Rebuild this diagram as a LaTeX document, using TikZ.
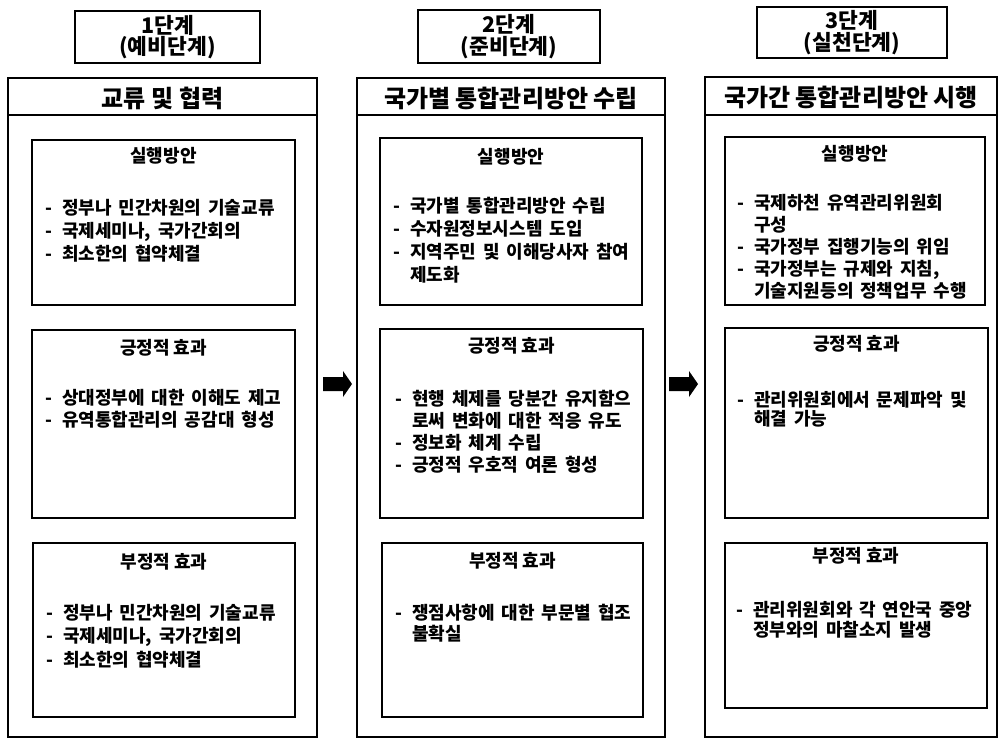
\documentclass[tikz,border=0pt]{standalone}
\usepackage{fontspec}
\setmainfont{Noto Sans CJK KR}
\newcommand\bl[1]{\makebox[17pt][l]{-}#1}
\newcommand\cn[1]{\hspace*{17pt}#1}
\newcommand\blk[2][22pt]{\vtop{\baselineskip=#1\lineskiplimit=-30pt\spaceskip=0.38em plus 0pt\halign{##\hfil\cr#2\crcr}}}
\begin{document}
\begin{tikzpicture}[x=1pt,y=-1pt,
  colbox/.style={draw, line width=2pt},
  inbox/.style={draw, line width=1.3pt},
  stagebox/.style={draw, line width=2.4pt, align=center, inner sep=0pt,
    font=\fontsize{21.5}{21.5}\selectfont\bfseries},
  hdr/.style={font=\fontsize{24}{26}\selectfont\bfseries, inner sep=0pt},
  ttl/.style={font=\fontsize{18}{22}\selectfont\bfseries, inner sep=0pt},
  body/.style={font=\fontsize{18}{22}\selectfont\bfseries, anchor=base west, inner sep=0pt}
]
\useasboundingbox (0,0) rectangle (1000,740);

% stage labels
\node[stagebox, minimum width=185pt, minimum height=52pt] (s1) at (167.5,37) {1단계\\(예비단계)};
\node[stagebox, minimum width=182pt, minimum height=53pt] (s2) at (509,36.5) {2단계\\(준비단계)};
\node[stagebox, minimum width=190pt, minimum height=51pt] (s3) at (852,32.5) {3단계\\(실천단계)};

% columns
\draw[colbox] (8,78) rectangle (317,737);
\draw[colbox] (8,115) -- (317,115);
\draw[colbox] (357,78) rectangle (665,737);
\draw[colbox] (357,115) -- (665,115);
\draw[colbox] (705,77) rectangle (997,737);
\draw[colbox] (705,115) -- (997,115);

\node[hdr] (h1) at (162.5,98) {교류 및 협력};
\node[hdr] (h2) at (511,98) {국가별 통합관리방안 수립};
\node[hdr] (h3) at (851,97) {국가간 통합관리방안 시행};

% inner boxes
\draw[inbox] (32,140) rectangle (295,305);
\draw[inbox] (32,330) rectangle (295,518);
\draw[inbox] (33,543) rectangle (295,717);
\draw[inbox] (380,138) rectangle (642,305);
\draw[inbox] (380,329) rectangle (643,518);
\draw[inbox] (382,543) rectangle (643,717);
\draw[inbox] (725,137) rectangle (985,305);
\draw[inbox] (725,328) rectangle (988,518);
\draw[inbox] (725,543) rectangle (987,708);

% titles
\node[ttl] (t1a) at (163.5,156) {실행방안};
\node[ttl] (t1b) at (163.5,348) {긍정적 효과};
\node[ttl] (t1c) at (164,562) {부정적 효과};
\node[ttl] (t2a) at (511,157) {실행방안};
\node[ttl] (t2b) at (511.5,346) {긍정적 효과};
\node[ttl] (t2c) at (512.5,561) {부정적 효과};
\node[ttl] (t3a) at (855,154) {실행방안};
\node[ttl] (t3b) at (856.5,344) {긍정적 효과};
\node[ttl] (t3c) at (856,556) {부정적 효과};

% bodies
\node[body] (b1a) at (45,214) {\blk[23pt]{\bl{정부나 민간차원의 기술교류}\cr\bl{국제세미나, 국가간회의}\cr\bl{최소한의 협약체결}}};
\node[body] (b1b) at (45,404) {\blk{\bl{상대정부에 대한 이해도 제고}\cr\bl{유역통합관리의 공감대 형성}}};
\node[body] (b1c) at (46,619) {\blk[23.5pt]{\bl{정부나 민간차원의 기술교류}\cr\bl{국제세미나, 국가간회의}\cr\bl{최소한의 협약체결}}};

\node[body] (b2a) at (393,212) {\blk[23pt]{\bl{국가별 통합관리방안 수립}\cr\bl{수자원정보시스템 도입}\cr\bl{지역주민 및 이해당사자 참여}\cr\cn{제도화}}};
\node[body] (b2b) at (395,405) {\blk{\bl{현행 체제를 당분간 유지함으}\cr\cn{로써 변화에 대한 적응 유도}\cr\bl{정보화 체계 수립}\cr\bl{긍정적 우호적 여론 형성}}};
\node[body] (b2c) at (395,619) {\blk[21pt]{\bl{쟁점사항에 대한 부문별 협조}\cr\cn{불확실}}};

\node[body] (b3a) at (737,209) {\blk{\bl{국제하천 유역관리위원회}\cr\cn{구성}\cr\bl{국가정부 집행기능의 위임}\cr\bl{국가정부는 규제와 지침,}\cr\cn{기술지원등의 정책업무 수행}}};
\node[body] (b3b) at (737,406) {\blk[19pt]{\bl{관리위원회에서 문제파악 및}\cr\cn{해결 가능}}};
\node[body] (b3c) at (736,616) {\blk[20pt]{\bl{관리위원회와 각 연안국 중앙}\cr\cn{정부와의 마찰소지 발생}}};

% block arrows
\fill (323,377) -- (343,377) -- (343,371) -- (352,384) -- (343,397) -- (343,391) -- (323,391) -- cycle;
\fill (669,377) -- (689,377) -- (689,371) -- (698,384) -- (689,397) -- (689,391) -- (669,391) -- cycle;
\end{tikzpicture}
\end{document}
